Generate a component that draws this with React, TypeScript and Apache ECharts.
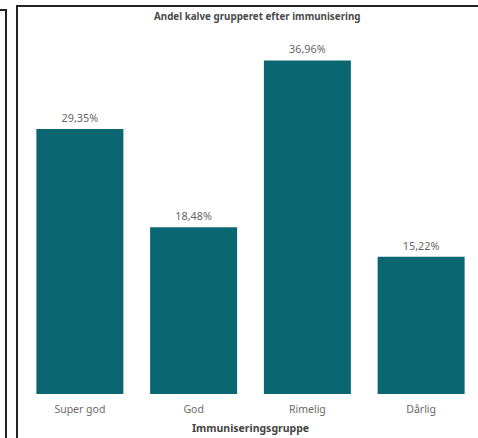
import React, { useEffect, useRef } from "react";
import * as echarts from "echarts";

const categories = ["Super god", "God", "Rimelig", "Dårlig"];
const values = [29.35, 18.48, 36.96, 15.22];
const titleText = "Andel kalve grupperet efter immunisering";
const xAxisTitle = "Immuniseringsgruppe";

const FONT = "'Noto Sans', 'Open Sans', sans-serif";

export default function App() {
  const ref = useRef<HTMLDivElement>(null);
  useEffect(() => {
    if (!ref.current) return;
    const chart = echarts.init(ref.current, undefined, { renderer: "svg" });
    chart.setOption({
      animation: false,
      title: {
        text: titleText,
        left: 149,
        top: 6,
        textStyle: { fontFamily: FONT, fontSize: 9.8, fontWeight: "bold", color: "#4a4a4a" },
      },
      grid: { left: 23, width: 456, top: 33, height: 370, containLabel: false },
      xAxis: {
        type: "category",
        data: categories,
        axisLine: { show: false },
        axisTick: { show: false },
        axisLabel: { color: "#6a6a6a", fontFamily: FONT, fontSize: 10.5, margin: 9 },
        name: xAxisTitle,
        nameLocation: "middle",
        nameGap: 28,
        nameTextStyle: { fontFamily: FONT, fontSize: 10.5, fontWeight: "bold", color: "#444" },
      },
      yAxis: { type: "value", min: 0, max: 40, show: false, splitLine: { show: false } },
      series: [
        {
          type: "bar",
          data: values,
          barWidth: 87,
          itemStyle: { color: "#0a6670" },
          label: {
            show: true,
            position: "top",
            distance: 6,
            color: "#666",
            fontFamily: FONT,
            fontSize: 10.8,
            formatter: (p: any) => p.value.toFixed(2).replace(".", ",") + "%",
          },
        },
      ],
      graphic: [
        {
          type: "rect",
          shape: { x: 17, y: 6, width: 520, height: 520 },
          style: { fill: "none", stroke: "#222", lineWidth: 2 },
          silent: true,
        },
        {
          type: "polyline",
          shape: { points: [[-2, 10], [6, 10], [6, 460]] },
          style: { fill: "none", stroke: "#222", lineWidth: 2 },
          silent: true,
        },
      ],
    });
    return () => chart.dispose();
  }, []);
  return (
    <div
      ref={ref}
      style={{ position: "fixed", left: 0, top: 0, width: 478, height: 438, background: "#fff" }}
    />
  );
}
